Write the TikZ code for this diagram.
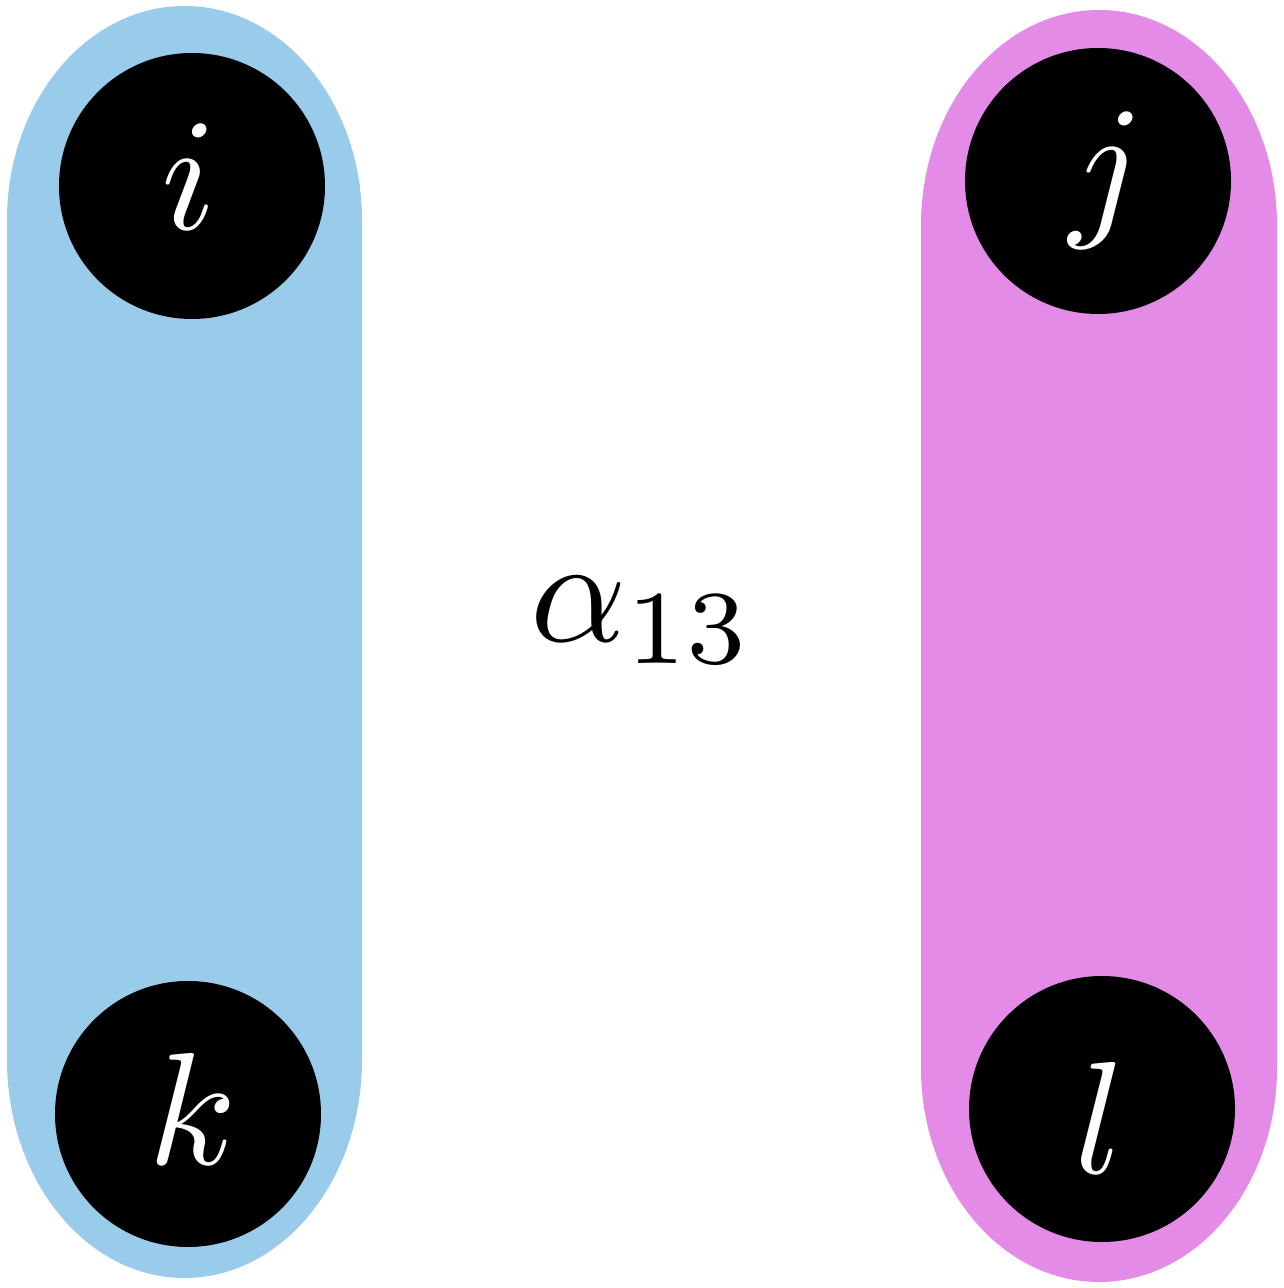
\documentclass[tikz,border=0pt]{standalone}
\usepackage{graphicx}
\definecolor{blobblue}{HTML}{99CCEB}
\definecolor{blobpink}{HTML}{E48BE8}
\begin{document}
\begin{tikzpicture}[x=1pt,y=1pt,
  vertex/.style={circle,fill=black,minimum size=266pt,inner sep=0pt},
  vlabel/.style={inner sep=0pt,text=white},
  biglabel/.style={inner sep=0pt}]
\useasboundingbox (0,0) rectangle (1283,1288);
\fill[blobblue] (7,228) -- (7,1068) arc[start angle=180,end angle=0,x radius=177.5,y radius=214]
  -- (362,228) arc[start angle=0,end angle=-180,x radius=177.5,y radius=218] -- cycle;
\fill[blobpink] (921,220) -- (921,1063) arc[start angle=180,end angle=0,x radius=178,y radius=215]
  -- (1277,220) arc[start angle=0,end angle=-180,x radius=178,y radius=214] -- cycle;
\node[vertex] (i) at (192,1102) {};
\node[vertex] (k) at (188,174) {};
\node[vertex] (j) at (1098,1107) {};
\node[vertex] (l) at (1102,179) {};
\node[vlabel] (ti) at (189,1111) {\scalebox{16}{$i$}};
\node[vlabel] (tk) at (193,179) {\scalebox{16}{$k$}};
\node[vlabel] (tj) at (1107,1108) {\scalebox{16}{$j$}};
\node[vlabel] (tl) at (1100,170) {\scalebox{16}{$l$}};
\node[biglabel] (a) at (642,668) {\scalebox{15}{$\alpha_{13}$}};
\end{tikzpicture}
\end{document}
